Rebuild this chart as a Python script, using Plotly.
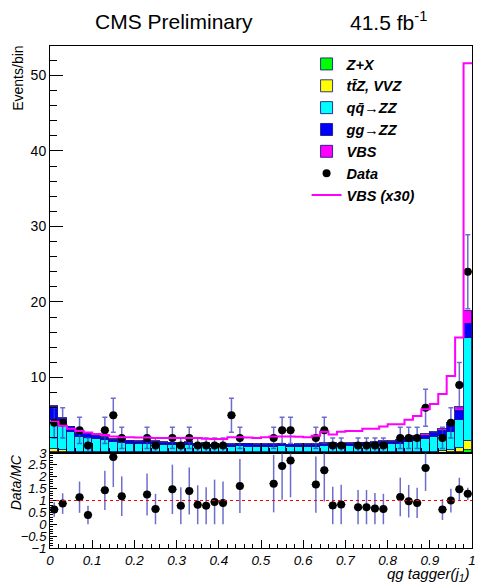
import numpy as np
import plotly.graph_objects as go

# ---------------- data ----------------
bin_edges = np.linspace(0.0, 1.0, 51)
bin_centers = 0.5 * (bin_edges[:-1] + bin_edges[1:])
bin_width = 0.02

zx = [0.10, 0.10, 0.06, 0.05, 0.05, 0.05, 0.05, 0.05, 0.04] + [0.04] * 32 + [0.05] * 5 + [0.06, 0.08, 0.15, 0.40]

ttz_vvz = [0.40, 0.35, 0.12, 0.10, 0.08, 0.08, 0.07, 0.07, 0.07] + [0.06] * 29 + [0.07, 0.07, 0.07,
           0.08, 0.08, 0.09, 0.10, 0.12, 0.15, 0.35, 0.45, 1.20]

qq_zz = [3.86, 3.23, 2.66, 1.93, 1.92, 1.71, 1.55, 1.28, 1.20, 1.15,
         1.11, 1.13, 1.09, 1.00, 0.91, 0.85, 0.95, 0.81, 0.84, 0.68,
         0.70, 0.72, 0.78, 0.76, 0.72, 0.72, 0.73, 0.78, 0.69, 0.72,
         0.74, 0.75, 0.84, 0.81, 0.75, 0.81, 0.88, 0.88, 0.94, 0.99,
         1.06, 1.11, 1.32, 1.47, 1.66, 1.91, 2.08, 2.38, 3.79, 13.68]

gg_zz = [1.70, 0.80, 0.55, 0.45, 0.42, 0.38, 0.35, 0.33, 0.32, 0.30,
         0.30, 0.30, 0.30, 0.28, 0.28, 0.28, 0.28, 0.27, 0.27, 0.26,
         0.26, 0.26, 0.27, 0.27, 0.26, 0.26, 0.27, 0.27, 0.26, 0.26,
         0.27, 0.27, 0.29, 0.28, 0.28, 0.29, 0.30, 0.30, 0.32, 0.33,
         0.35, 0.38, 0.42, 0.45, 0.50, 0.55, 0.65, 0.85, 1.20, 1.80]

vbs_x30 = [4.15, 3.60, 3.20, 2.90, 2.70, 2.50, 2.40, 2.20, 2.10, 2.10,
           2.05, 2.05, 2.00, 2.00, 2.00, 2.00, 2.00, 2.00, 1.90, 1.85,
           1.85, 2.10, 2.10, 2.05, 2.00, 2.10, 2.20, 2.20, 2.20, 2.15,
           2.10, 2.30, 2.80, 2.45, 2.80, 2.90, 2.90, 3.20, 3.20, 3.50,
           3.80, 3.80, 4.40, 4.90, 5.80, 6.50, 7.80, 10.20, 15.30, 51.60]
vbs_scale = 30.0

data_counts = [4, 4, 0, 3, 1, 0, 3, 5, 2, 0,
               0, 2, 1, 0, 2, 1, 2, 1, 1, 1,
               1, 5, 2, 0, 0, 0, 2, 3, 3, 0,
               0, 2, 3, 1, 1, 0, 1, 1, 1, 1,
               0, 2, 2, 2, 6, 0, 2, 4, 9, 24]

ratio = [0.62, 0.87, None, 1.14, 0.39, None, 1.43, 2.83, 1.18, None,
         None, 1.25, 0.64, None, 1.47, 0.78, 1.40, 0.82, 0.78, 0.94,
         0.90, None, 1.61, None, None, None, 1.71, 2.45, 2.68, None,
         None, 1.67, 2.27, 0.79, 0.83, None, 0.72, 0.72, 0.66, 0.64,
         None, 1.15, 0.97, 0.90, 2.37, None, 0.62, 1.00, 1.47, 1.28]

x_ticks = [0, 0.1, 0.2, 0.3, 0.4, 0.5, 0.6, 0.7, 0.8, 0.9, 1]
y_ticks_top = [10, 20, 30, 40, 50]
y_ticks_ratio = [-1, -0.5, 0, 0.5, 1, 1.5, 2, 2.5, 3]

# ---------------- figure ----------------
FONT = "Liberation Sans, Arial, Helvetica, sans-serif"
W, H = 478, 585
ML, MR, MT, MB = 50, 2, 46, 37
plot_h = H - MT - MB
ratio_frac = 95.0 / plot_h

fig = go.Figure()

outline = "rgba(20,20,130,0.85)"
vbs = np.array(vbs_x30) / vbs_scale
stack = [
    ("Z+X", zx, "#00ff00"),
    ("tt\u0304Z, VVZ", ttz_vvz, "#ffff00"),
    ("qq\u0304\u2192ZZ", qq_zz, "#00ffff"),
    ("gg\u2192ZZ", gg_zz, "#0000ff"),
    ("VBS", vbs, "#ff00ff"),
]
for name, vals, col in stack:
    fig.add_trace(go.Bar(
        x=bin_centers, y=vals, width=bin_width, name=name,
        marker=dict(color=col, line=dict(color=outline, width=1)),
        xaxis="x", yaxis="y", hoverinfo="skip"))

d = np.array(data_counts, dtype=float)
mask = d > 0
err_col = "rgba(60,60,190,0.75)"
fig.add_trace(go.Scatter(
    x=bin_centers[mask], y=d[mask], mode="markers", name="Data",
    marker=dict(color="black", size=8, symbol="circle"),
    error_y=dict(type="data", array=np.sqrt(d[mask]), color=err_col, thickness=1.5, width=2.5),
    error_x=dict(type="constant", value=bin_width / 2, color="black", thickness=1, width=0),
    xaxis="x", yaxis="y"))

line_x = np.append(bin_edges[:-1], bin_edges[-1])
line_y = np.append(vbs_x30, vbs_x30[-1])
fig.add_trace(go.Scatter(
    x=line_x, y=line_y, mode="lines", name="VBS (x30)",
    line=dict(color="#ff00ff", width=2, shape="hv"),
    xaxis="x", yaxis="y"))

# ratio panel
r = np.array([np.nan if v is None else v for v in ratio])
rm = ~np.isnan(r)
r_err = r[rm] / np.sqrt(d[rm])
fig.add_trace(go.Scatter(
    x=bin_centers[rm], y=r[rm], mode="markers", showlegend=False,
    marker=dict(color="black", size=8),
    error_y=dict(type="data", array=r_err, color=err_col, thickness=1.5, width=0),
    error_x=dict(type="constant", value=bin_width / 2, color="black", thickness=1, width=0),
    xaxis="x2", yaxis="y2"))

fig.add_shape(type="line", xref="x2", yref="y2", x0=0, x1=1, y0=1, y1=1,
              line=dict(color="red", width=1, dash="3px,3px"))

axis_common = dict(showline=True, mirror=True, linecolor="black", linewidth=1,
                   showgrid=False, zeroline=False, ticks="inside", tickcolor="black")

fig.update_layout(
    width=W, height=H,
    margin=dict(l=ML, r=MR, t=MT, b=MB),
    paper_bgcolor="white", plot_bgcolor="white",
    barmode="stack", bargap=0,
    font=dict(family=FONT, color="black"),
    xaxis=dict(domain=[0, 1], range=[0, 1], anchor="y", showticklabels=False,
               tickmode="array", tickvals=x_ticks, ticklen=10,
               minor=dict(ticks="inside", dtick=0.02, tick0=0, ticklen=5, tickcolor="black"),
               **axis_common),
    yaxis=dict(domain=[ratio_frac, 1], range=[0, 53.9], anchor="x",
               tickmode="array", tickvals=y_ticks_top, ticklen=13,
               tickfont=dict(size=14),
               minor=dict(ticks="inside", tickmode="linear", tick0=0, dtick=2, ticklen=7, tickcolor="black"),
               **axis_common),
    xaxis2=dict(domain=[0, 1], range=[0, 1], anchor="y2", matches="x",
                tickmode="array", tickvals=x_ticks, ticklen=8,
                tickfont=dict(size=13.5, style="italic"),
                ticklabelstandoff=0, ticklabeloverflow="allow",
                minor=dict(ticks="inside", dtick=0.02, tick0=0, ticklen=4, tickcolor="black"),
                **axis_common),
    yaxis2=dict(domain=[0, ratio_frac], range=[-1, 3], anchor="x2",
                tickmode="array", tickvals=y_ticks_ratio, ticklen=7,
                tickfont=dict(size=13, style="italic"),
                minor=dict(ticks="inside", tickmode="linear", tick0=0, dtick=0.1, ticklen=3, tickcolor="black"),
                **axis_common),
    legend=dict(x=0.608, y=0.996, xanchor="left", yanchor="top",
                bgcolor="rgba(0,0,0,0)", borderwidth=0, traceorder="normal",
                itemwidth=30,
                font=dict(size=14.5, weight="bold", style="italic", family=FONT)),
    showlegend=True,
)

def px_to_paper_y(py):
    return (H - MB - py) / plot_h

def px_to_paper_x(px):
    return (px - ML) / (W - ML - MR)

fig.add_annotation(text="CMS Preliminary", xref="paper", yref="paper",
                   x=px_to_paper_x(175), y=px_to_paper_y(21), showarrow=False,
                   xanchor="center", yanchor="middle", font=dict(size=21))
fig.add_annotation(text="41.5 fb<sup>-1</sup>", xref="paper", yref="paper",
                   x=px_to_paper_x(392), y=px_to_paper_y(21), showarrow=False,
                   xanchor="center", yanchor="middle", font=dict(size=21))
fig.add_annotation(text="Events/bin", xref="paper", yref="paper",
                   x=px_to_paper_x(17), y=px_to_paper_y(44), showarrow=False,
                   xanchor="center", yanchor="top", textangle=-90, font=dict(size=14))
fig.add_annotation(text="Data/MC", xref="paper", yref="paper",
                   x=px_to_paper_x(16), y=px_to_paper_y(482), showarrow=False,
                   xanchor="center", yanchor="middle", textangle=-90,
                   font=dict(size=14, style="italic"))
fig.add_annotation(text="qg tagger(j<sub>1</sub>)", xref="paper", yref="paper",
                   x=px_to_paper_x(476), y=px_to_paper_y(574), showarrow=False,
                   xanchor="right", yanchor="middle",
                   font=dict(size=15, style="italic"))

fig.write_html("out.html", config={"displayModeBar": False},
               post_script="document.body.style.margin='0px';document.body.style.overflow='hidden';")
